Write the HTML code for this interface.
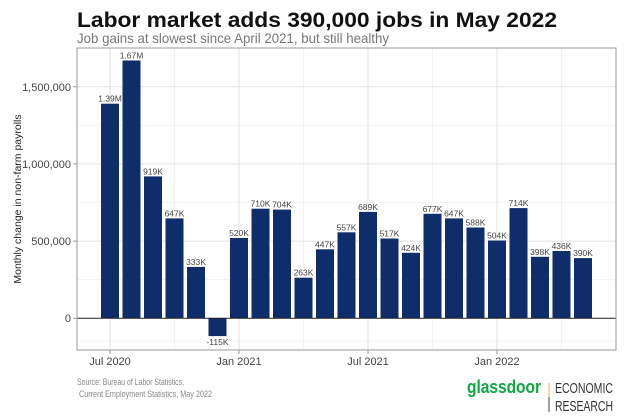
<!DOCTYPE html>
<html><head><meta charset="utf-8"><style>
body{margin:0;background:#fff;}
svg{display:block;font-family:"Liberation Sans",sans-serif;}
</style></head><body>
<svg width="630" height="420" viewBox="0 0 630 420" xmlns="http://www.w3.org/2000/svg">
<rect width="630" height="420" fill="#fff"/>
<text x="77" y="27" font-size="21" font-weight="bold" fill="#111" textLength="480" lengthAdjust="spacingAndGlyphs">Labor market adds 390,000 jobs in May 2022</text>
<text x="77" y="43" font-size="14" fill="#777" textLength="312" lengthAdjust="spacingAndGlyphs">Job gains at slowest since April 2021, but still healthy</text>
<g stroke="#f0f0f0" stroke-width="0.8">
<line x1="77" x2="616" y1="279.7" y2="279.7"/><line x1="77" x2="616" y1="202.5" y2="202.5"/><line x1="77" x2="616" y1="125.3" y2="125.3"/><line x1="77" x2="616" y1="341" y2="341"/>
<line x1="174.5" x2="174.5" y1="48" y2="350"/><line x1="303.5" x2="303.5" y1="48" y2="350"/><line x1="432.5" x2="432.5" y1="48" y2="350"/><line x1="561.5" x2="561.5" y1="48" y2="350"/>
</g>
<g stroke="#e2e2e2" stroke-width="1">
<line x1="77" x2="616" y1="241.1" y2="241.1"/><line x1="77" x2="616" y1="163.9" y2="163.9"/><line x1="77" x2="616" y1="86.7" y2="86.7"/>
<line x1="110" x2="110" y1="48" y2="350"/><line x1="239" x2="239" y1="48" y2="350"/><line x1="368" x2="368" y1="48" y2="350"/><line x1="497" x2="497" y1="48" y2="350"/>
</g>
<g fill="#0f2d6b">
<rect x="101" y="103.7" width="18" height="214.6"/>
<rect x="122.5" y="60.5" width="18" height="257.8"/>
<rect x="144" y="176.4" width="18" height="141.9"/>
<rect x="165.5" y="218.4" width="18" height="99.9"/>
<rect x="187" y="266.9" width="18" height="51.4"/>
<rect x="208.5" y="318.3" width="18" height="17.8"/>
<rect x="230" y="238.0" width="18" height="80.3"/>
<rect x="251.5" y="208.7" width="18" height="109.6"/>
<rect x="273" y="209.6" width="18" height="108.7"/>
<rect x="294.5" y="277.7" width="18" height="40.6"/>
<rect x="316" y="249.3" width="18" height="69.0"/>
<rect x="337.5" y="232.3" width="18" height="86.0"/>
<rect x="359" y="211.9" width="18" height="106.4"/>
<rect x="380.5" y="238.5" width="18" height="79.8"/>
<rect x="402" y="252.8" width="18" height="65.5"/>
<rect x="423.5" y="213.8" width="18" height="104.5"/>
<rect x="445" y="218.4" width="18" height="99.9"/>
<rect x="466.5" y="227.5" width="18" height="90.8"/>
<rect x="488" y="240.5" width="18" height="77.8"/>
<rect x="509.5" y="208.1" width="18" height="110.2"/>
<rect x="531" y="256.8" width="18" height="61.5"/>
<rect x="552.5" y="251.0" width="18" height="67.3"/>
<rect x="574" y="258.1" width="18" height="60.2"/>
</g>
<g font-size="8.5" fill="#444" text-anchor="middle">
<text x="110" y="101.7">1.39M</text>
<text x="131.5" y="58.5">1.67M</text>
<text x="153" y="174.4">919K</text>
<text x="174.5" y="216.4">647K</text>
<text x="196" y="264.9">333K</text>
<text x="217.5" y="345">-115K</text>
<text x="239" y="236">520K</text>
<text x="260.5" y="206.7">710K</text>
<text x="282" y="207.6">704K</text>
<text x="303.5" y="275.7">263K</text>
<text x="325" y="247.3">447K</text>
<text x="346.5" y="230.3">557K</text>
<text x="368" y="209.9">689K</text>
<text x="389.5" y="236.5">517K</text>
<text x="411" y="250.8">424K</text>
<text x="432.5" y="211.8">677K</text>
<text x="454" y="216.4">647K</text>
<text x="475.5" y="225.5">588K</text>
<text x="497" y="238.5">504K</text>
<text x="518.5" y="206.1">714K</text>
<text x="540" y="254.8">398K</text>
<text x="561.5" y="249">436K</text>
<text x="583" y="256.1">390K</text>
</g>
<line x1="77" x2="616" y1="318.3" y2="318.3" stroke="#222" stroke-width="1"/>
<rect x="77" y="48" width="539" height="302" fill="none" stroke="#999" stroke-width="1"/>
<g stroke="#999"><line x1="73" x2="77" y1="318.3" y2="318.3"/><line x1="73" x2="77" y1="241.1" y2="241.1"/><line x1="73" x2="77" y1="163.9" y2="163.9"/><line x1="73" x2="77" y1="86.7" y2="86.7"/>
<line x1="110" x2="110" y1="350" y2="354"/><line x1="239" x2="239" y1="350" y2="354"/><line x1="368" x2="368" y1="350" y2="354"/><line x1="497" x2="497" y1="350" y2="354"/></g>
<g font-size="11" fill="#444" text-anchor="end">
<text x="71" y="322">0</text><text x="71" y="245">500,000</text><text x="71" y="168">1,000,000</text><text x="71" y="91">1,500,000</text></g>
<g font-size="11" fill="#444" text-anchor="middle">
<text x="110" y="365">Jul 2020</text><text x="239" y="365">Jan 2021</text><text x="368" y="365">Jul 2021</text><text x="497" y="365">Jan 2022</text></g>
<text transform="translate(21,199) rotate(-90)" font-size="10.5" fill="#222" text-anchor="middle">Monthly change in non-farm payrolls</text>
<text x="77" y="385" font-size="9" fill="#888" textLength="107" lengthAdjust="spacingAndGlyphs">Source: Bureau of Labor Statistics,</text>
<text x="79" y="397" font-size="9" fill="#888" textLength="133" lengthAdjust="spacingAndGlyphs">Current Employment Statistics, May 2022</text>
<text x="467" y="393" font-size="18" font-weight="bold" fill="#0caa41" textLength="74" lengthAdjust="spacingAndGlyphs">glassdoor</text>
<line x1="549" x2="549" y1="383" y2="397" stroke="#e8b84a" stroke-width="1"/>
<line x1="549" x2="549" y1="397" y2="412" stroke="#444" stroke-width="1"/>
<text x="555" y="393" font-size="15" fill="#333" textLength="58" lengthAdjust="spacingAndGlyphs">ECONOMIC</text>
<text x="555" y="411" font-size="15" fill="#333" textLength="58" lengthAdjust="spacingAndGlyphs">RESEARCH</text>
</svg>
</body></html>
